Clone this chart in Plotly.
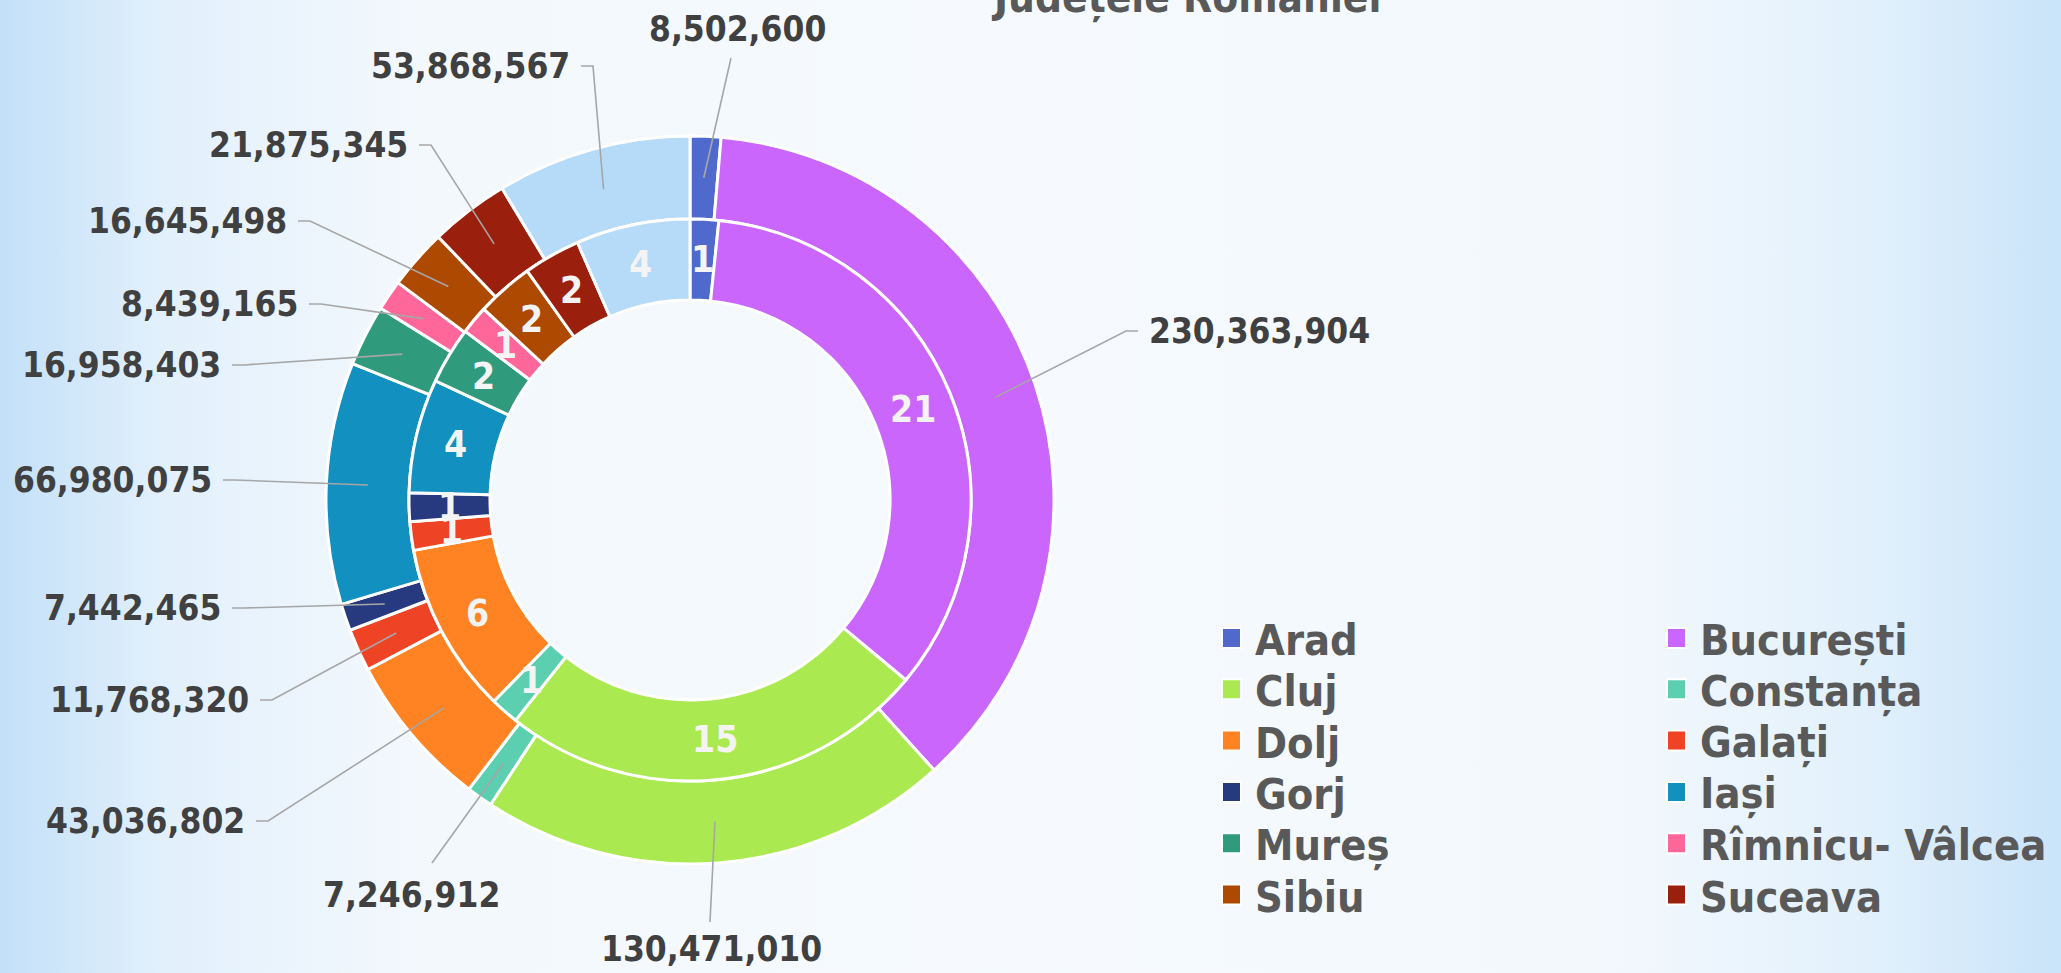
import math
import plotly.graph_objects as go

# ---------------- data ----------------
categories = ["Arad", "București", "Cluj", "Constanța", "Dolj", "Galați", "Gorj",
              "Iași", "Mureș", "Rîmnicu- Vâlcea", "Sibiu", "Suceava", "Timiș"]
valoare = [8502600, 230363904, 130471010, 7246912, 43036802, 11768320, 7442465,
           66980075, 16958403, 8439165, 16645498, 21875345, 53868567]
proiecte = [1, 21, 15, 1, 6, 1, 1, 4, 2, 1, 2, 2, 4]
legend_categories = categories[:12]

colors = ["#4f6acc", "#cb66fc", "#aaea50", "#5ccfb0", "#ff8323", "#ef4325", "#27397f",
          "#1290bf", "#2f9b7c", "#ff679a", "#ad4900", "#9b1f0d", "#b5dbf8"]

title_text = "Județele României"

# ---------------- layout constants ----------------
W, H = 2061, 973
CX, CY = 690, 500          # donut centre (px)
R_OUT, R_MID, R_IN = 364, 281, 200
FONT = "DejaVu Sans Condensed, Liberation Sans Narrow, DejaVu Sans, sans-serif"
TXT = "#404040"
LEAD = "#a6a6a6"

# outer-label placement: (x px, y px, xanchor, leader end x, leader end y)
label_pos = [
    (737, 29, "center", 731, 58),
    (1147, 331, "left", None, None),
    (711, 949, "center", 710, 922),
    (411, 895, "center", 432, 863),
    (247, 821, "right", None, None),
    (251, 700, "right", None, None),
    (223, 608, "right", None, None),
    (214, 480, "right", None, None),
    (223, 365, "right", None, None),
    (300, 304, "right", None, None),
    (289, 221, "right", None, None),
    (410, 145, "right", None, None),
    (572, 66, "right", None, None),
]


def px(x):
    return x / W


def py(y):
    return 1 - y / H


def mid_points(values, r):
    tot = float(sum(values))
    pts, cum = [], 0.0
    for v in values:
        a = 2 * math.pi * (cum + v / 2) / tot
        pts.append((CX + r * math.sin(a), CY - r * math.cos(a)))
        cum += v
    return pts


fig = go.Figure()

# background gradient
fig.add_trace(go.Scatter(
    x=[0, 1, 1, 0, 0], y=[0, 0, 1, 1, 0], mode="lines", fill="toself",
    line=dict(width=0), hoverinfo="skip", showlegend=False,
    fillgradient=dict(type="horizontal", colorscale=[
        [0.0, "#c3e0f8"], [0.08, "#e2f0fc"], [0.2, "#f3f8fd"], [0.5, "#f6fafe"],
        [0.78, "#f3f8fd"], [0.9, "#e3f1fc"], [1.0, "#cae4f9"]]),
))

# outer ring (values)
fig.add_trace(go.Pie(
    labels=categories, values=valoare, sort=False, direction="clockwise", rotation=0,
    hole=R_MID / R_OUT, textinfo="none", showlegend=False,
    marker=dict(colors=colors, line=dict(color="white", width=3)),
    domain=dict(x=[px(CX - R_OUT), px(CX + R_OUT)], y=[py(CY + R_OUT), py(CY - R_OUT)]),
))

# inner ring (number of projects)
fig.add_trace(go.Pie(
    labels=categories, values=proiecte, sort=False, direction="clockwise", rotation=0,
    hole=R_IN / R_MID, textinfo="none", showlegend=False,
    marker=dict(colors=colors, line=dict(color="white", width=3)),
    domain=dict(x=[px(CX - R_MID), px(CX + R_MID)], y=[py(CY + R_MID), py(CY - R_MID)]),
))

annotations, shapes = [], []

# inner ring labels
for (x, y), v in zip(mid_points(proiecte, (R_MID + R_IN) / 2), proiecte):
    annotations.append(dict(x=px(x), y=py(y), xref="paper", yref="paper", text=str(v),
                            showarrow=False, xanchor="center", yanchor="middle",
                            font=dict(family=FONT, size=37, color="#f4f4f4", weight="bold")))

# outer ring labels with leader lines
for (x, y), v, (lx, ly, anc, ex, ey) in zip(mid_points(valoare, (R_OUT + R_MID) / 2), valoare, label_pos):
    annotations.append(dict(x=px(lx), y=py(ly), xref="paper", yref="paper", text=f"{v:,}",
                            showarrow=False, xanchor=anc, yanchor="middle",
                            font=dict(family=FONT, size=35, color=TXT, weight="bold")))
    if anc == "right":
        path = f"M {px(x)} {py(y)} L {px(lx + 21)} {py(ly)} L {px(lx + 9)} {py(ly)}"
    elif anc == "left":
        path = f"M {px(x)} {py(y)} L {px(lx - 21)} {py(ly)} L {px(lx - 9)} {py(ly)}"
    else:
        path = f"M {px(x)} {py(y)} L {px(ex)} {py(ey)}"
    shapes.append(dict(type="path", path=path, xref="paper", yref="paper",
                       line=dict(color=LEAD, width=1.6)))

# legend (two columns, row-wise order)
LEG_X = [1222, 1667]
LEG_Y0, LEG_DY = 638, 51.3
for i, (name, col) in enumerate(zip(legend_categories, colors)):
    cx_ = LEG_X[i % 2]
    cy_ = LEG_Y0 + (i // 2) * LEG_DY
    shapes.append(dict(type="rect", xref="paper", yref="paper",
                       x0=px(cx_), x1=px(cx_ + 19), y0=py(cy_ + 10), y1=py(cy_ - 10),
                       fillcolor=col, line=dict(color="white", width=2)))
    annotations.append(dict(x=px(cx_ + 31), y=py(cy_ + 2), xref="paper", yref="paper", text=name,
                            showarrow=False, xanchor="left", yanchor="middle",
                            font=dict(family=FONT, size=43, color="#595959", weight="bold")))

# title (partly outside the top edge, as in the reference)
annotations.append(dict(x=px(1186), y=py(-2), xref="paper", yref="paper", text=title_text,
                        showarrow=False, xanchor="center", yanchor="middle",
                        font=dict(family=FONT, size=42, color="#595959", weight="bold")))

fig.update_layout(
    width=W, height=H, autosize=False,
    margin=dict(l=0, r=0, t=0, b=0, pad=0),
    paper_bgcolor="#f4f8fd", plot_bgcolor="rgba(0,0,0,0)",
    xaxis=dict(range=[0, 1], visible=False, fixedrange=True, domain=[0, 1]),
    yaxis=dict(range=[0, 1], visible=False, fixedrange=True, domain=[0, 1]),
    showlegend=False,
    annotations=annotations, shapes=shapes,
)

fig.write_html("out.html", config={"displayModeBar": False},
               post_script="document.body.style.margin='0';document.body.style.overflow='hidden';")
